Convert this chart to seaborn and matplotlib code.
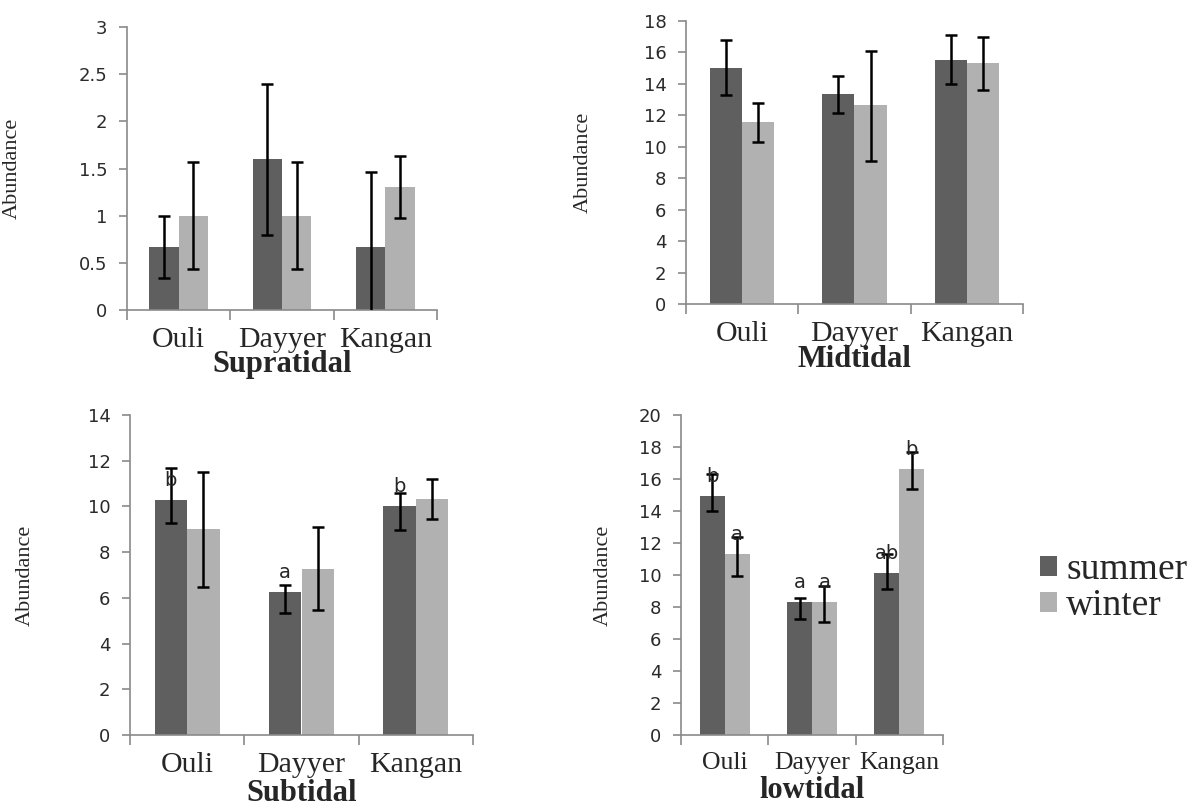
import numpy as np
import pandas as pd
import matplotlib
matplotlib.use("Agg")
import matplotlib.pyplot as plt
import seaborn as sns
from matplotlib.ticker import MultipleLocator, FixedLocator, FuncFormatter
from matplotlib.patches import Patch

sites = ["Ouli", "Dayyer", "Kangan"]
seasons = ["summer", "winter"]

# Supratidal
supra_summer = [0.67, 1.6, 0.67]
supra_summer_lo = [0.34, 0.8, -0.12]
supra_summer_hi = [1.0, 2.4, 1.46]
supra_winter = [1.0, 1.0, 1.3]
supra_winter_lo = [0.43, 0.43, 0.98]
supra_winter_hi = [1.57, 1.57, 1.63]

# Midtidal
mid_summer = [15.0, 13.35, 15.55]
mid_summer_lo = [13.28, 12.12, 14.02]
mid_summer_hi = [16.77, 14.49, 17.1]
mid_winter = [11.6, 12.63, 15.33]
mid_winter_lo = [10.32, 9.07, 13.6]
mid_winter_hi = [12.8, 16.07, 16.99]

# Subtidal
sub_summer = [10.3, 6.27, 10.0]
sub_summer_lo = [9.29, 5.32, 8.97]
sub_summer_hi = [11.67, 6.56, 10.57]
sub_winter = [9.0, 7.27, 10.31]
sub_winter_lo = [6.49, 5.47, 9.45]
sub_winter_hi = [11.52, 9.11, 11.21]
sub_summer_letters = ["b", "a", "b"]

# lowtidal
low_summer = [14.94, 8.31, 10.1]
low_summer_lo = [14.02, 7.27, 9.15]
low_summer_hi = [16.3, 8.58, 11.3]
low_winter = [11.29, 8.31, 16.6]
low_winter_lo = [9.94, 7.08, 15.35]
low_winter_hi = [12.4, 9.3, 17.7]
low_summer_letters = ["b", "a", "ab"]
low_winter_letters = ["a", "a", "b"]

colors = {"summer": "#5f5f5f", "winter": "#b1b1b1"}
GRAY = "#8a8a8a"
SERIF = "Liberation Serif"

sns.set_style("white")
plt.rcParams["font.family"] = ["DejaVu Sans"]

W, H = 1190, 807
fig = plt.figure(figsize=(W / 100, H / 100), dpi=100)


def px_axes(left, right, top, bottom):
    return fig.add_axes([left / W, 1 - bottom / H, (right - left) / W, (bottom - top) / H])


def draw_panel(ax, summer, s_lo, s_hi, winter, w_lo, w_hi, ymax, step, title,
               label_x, title_y, s_letters=None, w_letters=None, site_size=21.5):
    df = pd.DataFrame({
        "Site": sites * 2,
        "Season": ["summer"] * 3 + ["winter"] * 3,
        "Abundance": summer + winter,
    })
    sns.barplot(data=df, x="Site", y="Abundance", hue="Season", palette=colors,
                width=0.57, errorbar=None, saturation=1, legend=False,
                linewidth=0, ax=ax)
    for cont, means, lo, hi, letters in zip(ax.containers, [summer, winter],
                                            [s_lo, w_lo], [s_hi, w_hi],
                                            [s_letters, w_letters]):
        xs = [p.get_x() + p.get_width() / 2 for p in cont]
        m = np.array(means)
        yerr = [m - np.array(lo), np.array(hi) - m]
        ax.errorbar(xs, m, yerr=yerr, fmt="none", ecolor="black",
                    elinewidth=1.8, capsize=4.5, capthick=1.8, zorder=3)
        if letters:
            for x, v, t in zip(xs, means, letters):
                ax.annotate(t, (x, v), xytext=(0, 14), textcoords="offset points",
                            ha="center", va="center", fontsize=14, zorder=4)

    ax.set_xlim(-0.5, 2.5)
    ax.set_ylim(0, ymax)
    ax.yaxis.set_major_locator(MultipleLocator(step))
    ax.yaxis.set_major_formatter(FuncFormatter(lambda v, p: f"{v:g}"))
    ax.xaxis.set_minor_locator(FixedLocator([-0.5, 0.5, 1.5, 2.5]))
    ax.tick_params(axis="x", which="major", length=0, pad=12, labelsize=site_size)
    ax.tick_params(axis="x", which="minor", length=7, width=1.2, color=GRAY,
                   direction="out", bottom=True)
    ax.tick_params(axis="y", length=6, width=1.2, color=GRAY, labelsize=13,
                   labelcolor="#2a2a2a", direction="out", left=True, pad=8)
    for lbl in ax.get_xticklabels():
        lbl.set_fontfamily(SERIF)
    for side in ["top", "right"]:
        ax.spines[side].set_visible(False)
    for side in ["left", "bottom"]:
        ax.spines[side].set_color(GRAY)
        ax.spines[side].set_linewidth(1.2)
    ax.set_xlabel("")
    ax.set_ylabel("Abundance", fontfamily=SERIF, fontsize=16)
    ax.yaxis.set_label_coords(label_x, 0.5)
    ax.text(0.5, title_y, title, transform=ax.transAxes, ha="center", va="center",
            fontfamily=SERIF, fontweight="bold", fontsize=22)


ax1 = px_axes(127, 437, 27, 310)
draw_panel(ax1, supra_summer, supra_summer_lo, supra_summer_hi,
           supra_winter, supra_winter_lo, supra_winter_hi,
           3, 0.5, "Supratidal", -0.339, -0.194)

ax2 = px_axes(686, 1023, 21, 304)
draw_panel(ax2, mid_summer, mid_summer_lo, mid_summer_hi,
           mid_winter, mid_winter_lo, mid_winter_hi,
           18, 2, "Midtidal", -0.276, -0.197)

ax3 = px_axes(130, 473, 415, 735)
draw_panel(ax3, sub_summer, sub_summer_lo, sub_summer_hi,
           sub_winter, sub_winter_lo, sub_winter_hi,
           14, 2, "Subtidal", -0.277, -0.182, s_letters=sub_summer_letters)

ax4 = px_axes(681, 943, 415, 735)
draw_panel(ax4, low_summer, low_summer_lo, low_summer_hi,
           low_winter, low_winter_lo, low_winter_hi,
           20, 2, "lowtidal", -0.26, -0.172,
           s_letters=low_summer_letters, w_letters=low_winter_letters,
           site_size=18.5)

handles = [Patch(facecolor=colors[s], edgecolor="none", label=s) for s in seasons]
fig.legend(handles=handles, loc="center left", bbox_to_anchor=(1040 / W, 1 - 588 / H),
           frameon=False, prop={"family": SERIF, "size": 27},
           handlelength=0.45, handleheight=0.45, handletextpad=0.25,
           labelspacing=0.05, borderpad=0, borderaxespad=0)

fig.savefig("out.png", dpi=100)
